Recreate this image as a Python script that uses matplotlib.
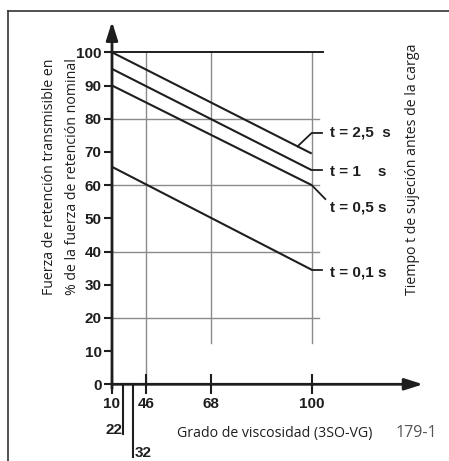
import numpy as np
import matplotlib
matplotlib.use('Agg')
import matplotlib.pyplot as plt

# ---------------- data ----------------
grades = [10, 46, 68, 100]
minor_grades = [22, 32]
y_ticks = list(range(0, 101, 10))
series_labels = ['t = 2,5  s', 't = 1    s', 't = 0,5 s', 't = 0,1 s']
start_vals = [100, 95, 90, 65.5]   # at grade 10
end_vals = [69.5, 64.5, 60, 34.5]  # at grade 100
grid_h = [20, 40, 60, 80]

# ------------- non-linear grade scale (as drawn in the original) -------------
anchor_g = np.array([10, 22, 32, 46, 68, 100, 200])
anchor_p = np.array([0, 11, 21.3, 33.7, 99, 199.7, 199.7 + 100 * 3.15])
def fwd(g):
    return np.interp(g, anchor_g, anchor_p)
def inv(p):
    return np.interp(p, anchor_p, anchor_g)

W, H = 449, 461
fig = plt.figure(figsize=(W / 100, H / 100), dpi=100)
def fx(x):
    return x / W
def fy(y):
    return 1 - y / H

ax = fig.add_axes([fx(112), fy(384.3), (423 - 112) / W, (384.3 - 21.7) / H])
ax.set_xscale('function', functions=(fwd, inv))
ax.set_xlim(10, inv(311))
ax.set_ylim(0, (384.3 - 21.7) / 3.32)
for s in ax.spines.values():
    s.set_visible(False)

dark = '#1e1e1e'
grid_c = '#8a8a8a'
num_family = ['Liberation Sans', 'DejaVu Sans']
num_font = dict(family=num_family, weight='bold', size=11)
txt_family = ['Open Sans', 'DejaVu Sans']
txt_size = 10.2

# grid
for v in grid_h:
    ax.plot([10, inv(207)], [v, v], color=grid_c, lw=1.0, zorder=1)
ax.plot([10, inv(211)], [100, 100], color=dark, lw=1.4, zorder=2)
ax.plot([46, 46], [0, 100], color=grid_c, lw=1.0, zorder=1)
for g in [68, 100]:
    ax.plot([g, g], [12.5, 100], color=grid_c, lw=1.0, zorder=1)

# axes with arrows
ax.annotate('', xy=(0, 1), xytext=(0, -0.012), xycoords='axes fraction',
            arrowprops=dict(arrowstyle='-|>,head_length=1.1,head_width=0.35',
                            lw=2, color=dark, shrinkA=0, shrinkB=0))
ax.annotate('', xy=(1, 0), xytext=(0, 0), xycoords='axes fraction',
            arrowprops=dict(arrowstyle='-|>,head_length=1.1,head_width=0.35',
                            lw=2, color=dark, shrinkA=0, shrinkB=0))

# ticks
ax.set_yticks(y_ticks)
ax.set_yticklabels([str(v) for v in y_ticks], fontdict=num_font, color=dark)
ax.tick_params(axis='y', direction='out', length=6, width=1.5, color=dark, pad=1.5)
ax.set_xticks(grades)
ax.set_xticklabels([str(g) for g in grades], fontdict=num_font, color=dark)
ax.tick_params(axis='x', direction='inout', length=14, width=1.5, color=dark, pad=2)
ax.xaxis.set_minor_locator(matplotlib.ticker.NullLocator())

# minor grades 22 / 32 drawn as long drop lines
drop = [-14.9, -22.0]
for g, d in zip(minor_grades, drop):
    ax.plot([g, g], [0, d], color=dark, lw=1.5, clip_on=False, zorder=3)
ax.text(21.0, drop[0], str(minor_grades[0]), ha='right', va='baseline',
        color=dark, **num_font)
ax.text(33.4, drop[1], str(minor_grades[1]), ha='left', va='baseline',
        color=dark, **num_font)

# series lines
for s, e in zip(start_vals, end_vals):
    ax.plot([10, 100], [s, e], color=dark, lw=1.5, zorder=4, solid_capstyle='butt')

# leaders
lead_end = inv(210)
y25 = start_vals[0] + (end_vals[0] - start_vals[0]) * fwd(95.5) / fwd(100)
ax.plot([95.5, 100, lead_end], [y25, 75.7, 75.7], color=dark, lw=1.3, clip_on=False)
ax.plot([100, lead_end], [end_vals[1], end_vals[1]], color=dark, lw=1.3, clip_on=False)
ax.plot([100, inv(213.3)], [end_vals[2], 55.8], color=dark, lw=1.3, clip_on=False)
ax.plot([100, lead_end], [end_vals[3], end_vals[3]], color=dark, lw=1.3, clip_on=False)

label_y = [75.7, 64.0, 53.4, 33.6]
for lab, yv in zip(series_labels, label_y):
    ax.text(inv(218), yv, lab, ha='left', va='center', color=dark,
            clip_on=False, **num_font)

# frame
fig.add_artist(plt.Line2D([fx(8), fx(8)], [fy(11), 0], color='#333333', lw=1.2))
fig.add_artist(plt.Line2D([fx(8), 1], [fy(11), fy(11)], color='#333333', lw=1.2))

# axis titles
fig.text(fx(50), fy(177), 'Fuerza de retención transmisible en', rotation=90,
         ha='center', va='center', family=txt_family, size=txt_size, color=dark)
fig.text(fx(72), fy(177), '% de la fuerza de retención nominal', rotation=90,
         ha='center', va='center', family=txt_family, size=txt_size, color=dark)
fig.text(fx(413), fy(169), 'Tiempo t de sujeción antes de la carga', rotation=90,
         ha='center', va='center', family=txt_family, size=txt_size, color=dark)
fig.text(fx(274.5), fy(433), 'Grado de viscosidad (3SO-VG)',
         ha='center', va='center', family=txt_family, size=txt_size, color=dark)
fig.text(fx(416.5), fy(433), '179-1', ha='center', va='center',
         family=txt_family, size=11.5, color='#555555')

fig.savefig('out.png', dpi=100)
